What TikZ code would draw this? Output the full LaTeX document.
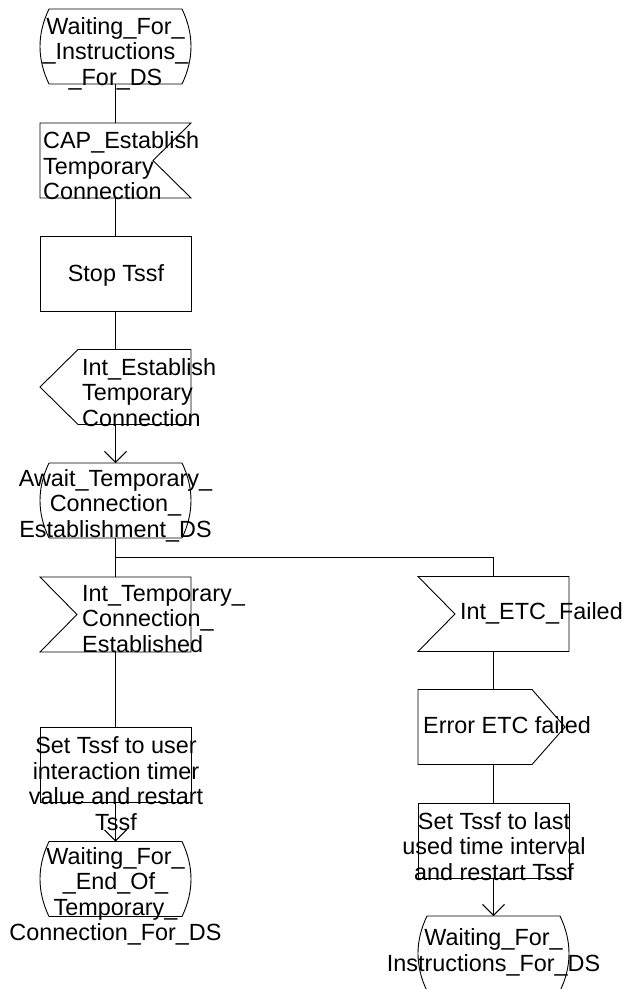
\documentclass[tikz,border=0pt]{standalone}
\usepackage{fontspec}
\setmainfont{Liberation Sans}
\usetikzlibrary{arrows.meta,calc}
% outlines drawn from the anchors of an invisible frame node
\newcommand\drawstate[1]{\draw[outline] ($(#1.north west)+(9,0)$) -- ($(#1.north east)+(-9,0)$)
  .. controls ($(#1.north east)+(3,25)$) and ($(#1.south east)+(3,-25)$) .. ($(#1.south east)+(-9,0)$)
  -- ($(#1.south west)+(9,0)$)
  .. controls ($(#1.south west)+(-3,-25)$) and ($(#1.north west)+(-3,25)$) .. cycle;}
\newcommand\drawtask[1]{\draw[outline] (#1.north west) rectangle (#1.south east);}
\newcommand\drawinright[1]{\draw[outline] (#1.north west) -- (#1.north east) -- ($(#1.east)+(-38,0)$) -- (#1.south east) -- (#1.south west) -- cycle;}
\newcommand\drawinleft[1]{\draw[outline] (#1.north west) -- (#1.north east) -- (#1.south east) -- (#1.south west) -- ($(#1.west)+(37,0)$) -- cycle;}
\newcommand\drawoutleft[1]{\draw[outline] ($(#1.north west)+(38,0)$) -- (#1.north east) -- (#1.south east) -- ($(#1.south west)+(38,0)$) -- (#1.west) -- cycle;}
\newcommand\drawoutright[1]{\draw[outline] (#1.north west) -- ($(#1.north east)+(-37,0)$) -- ($(#1.east)+(-4,0)$) -- ($(#1.south east)+(-37,0)$) -- (#1.south west) -- cycle;}
\begin{document}
\begin{tikzpicture}[x=1pt,y=-1pt,
  frame/.style={draw=none, rectangle, minimum width=151pt, minimum height=75pt, inner sep=0pt, outer sep=0pt},
  outline/.style={line width=0.9pt},
  lbl/.style={font=\fontsize{23.4pt}{25.5pt}\selectfont, inner sep=0pt, align=center},
  lbll/.style={lbl, align=left, anchor=west},
  conn/.style={line width=0.9pt},
  arr/.style={conn, -{Straight Barb[length=11pt,width=22pt]}}]
\useasboundingbox (0,0) rectangle (626,989);

% left column
\node[frame] (s1)   at (115.5,46.5)  {};
\node[frame] (cap)  at (115.5,160.5) {};
\node[frame] (stop) at (115.5,273.5) {};
\node[frame] (ies)  at (115.5,387)   {};
\node[frame] (s2)   at (115.5,500.5) {};
\node[frame] (itc)  at (115.5,614.5) {};
\node[frame] (set1) at (115.5,765)   {};
\node[frame] (s3)   at (115.5,879)   {};
% right column
\node[frame] (etc)  at (493.5,614)   {};
\node[frame] (err)  at (493.5,727)   {};
\node[frame] (set2) at (493.5,840.5) {};
\node[frame] (s4)   at (493.5,953.5) {};

\drawstate{s1}
\drawinright{cap}
\drawtask{stop}
\drawoutleft{ies}
\drawstate{s2}
\drawinleft{itc}
\drawtask{set1}
\drawstate{s3}
\drawinleft{etc}
\drawoutright{err}
\drawtask{set2}
\drawstate{s4}

% connectors
\coordinate (jn) at (115.5,557.5);
\draw[conn] (s1.south) -- (cap.north);
\draw[conn] (cap.south) -- (stop.north);
\draw[conn] (stop.south) -- (ies.north);
\draw[arr] (ies.south) -- (s2.north);
\draw[conn] (s2.south) -- (itc.north);
\draw[conn] (jn) -| (etc.north);
\draw[conn] (itc.south) -- (set1.north);
\draw[arr] (set1.south) -- (s3.north);
\draw[conn] (etc.south) -- (err.north);
\draw[conn] (err.south) -- (set2.north);
\draw[arr] (set2.south) -- (s4.north);

% texts
\node[lbl] (t1) at (115.5,53.5) {Waiting\_For\_\\\_Instructions\_\\\_For\_DS};
\node[lbll] (t2) at (43,166) {CAP\_Establish\\Temporary\\Connection};
\node[lbl] (t3) at (116,275) {Stop Tssf};
\node[lbll] (t4) at (82,392.5) {Int\_Establish\\Temporary\\Connection};
\node[lbl] (t5) at (115.5,505.5) {Await\_Temporary\_\\Connection\_\\Establishment\_DS};
\node[lbll] (t6) at (82,619) {Int\_Temporary\_\\Connection\_\\Established};
\node[lbl] (t7) at (116,783.5) {Set Tssf to user\\interaction timer\\value and restart\\Tssf};
\node[lbl] (t8) at (115.5,896.5) {Waiting\_For\_\\\_End\_Of\_\\Temporary\_\\Connection\_For\_DS};
\node[lbll] (t9) at (460,613) {Int\_ETC\_Failed};
\node[lbll] (t10) at (423,725) {Error ETC failed};
\node[lbl] (t11) at (494,846.5) {Set Tssf to last\\used time interval\\and restart Tssf};
\node[lbl] (t12) at (493.5,952.5) {Waiting\_For\_\\Instructions\_For\_DS};
\end{tikzpicture}
\end{document}
